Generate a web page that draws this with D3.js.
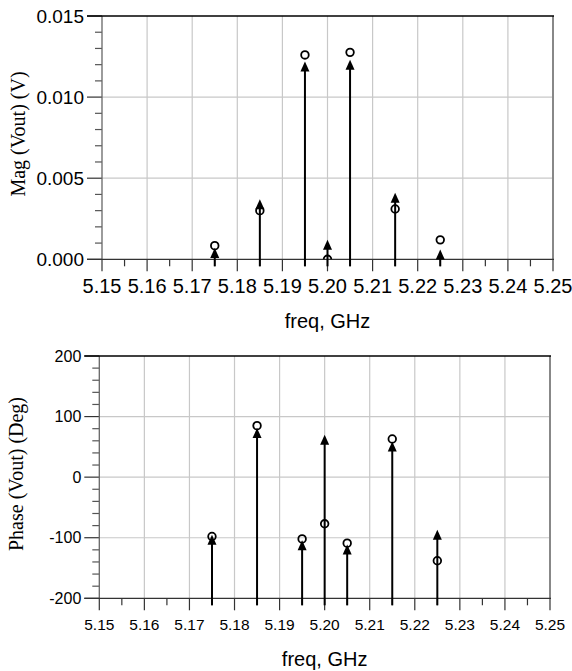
<!DOCTYPE html>
<html>
<head>
<meta charset="utf-8">
<script src="https://cdn.jsdelivr.net/npm/d3@7/dist/d3.min.js"></script>
<style>
  html, body { margin: 0; padding: 0; background: #fff; }
  svg { display: block; }
</style>
</head>
<body>
<svg id="chart" width="572" height="671"></svg>
<script>
// ---- data ----
const freqs = [5.175, 5.185, 5.195, 5.200, 5.205, 5.215, 5.225];
const magCircle = [0.00084, 0.0030, 0.0126, 0.0000, 0.01276, 0.0031, 0.0012];
const magArrow = [0.0007, 0.0037, 0.0122, 0.0012, 0.0123, 0.0041, 0.0006];
const phaseCircle = [-98, 85, -102, -77, -109, 63, -138];
const phaseArrow = [-95, 81, -104, 70, -111, 59, -87];
const xTicks = [5.15, 5.16, 5.17, 5.18, 5.19, 5.20, 5.21, 5.22, 5.23, 5.24, 5.25];
const magTicks = [0.000, 0.005, 0.010, 0.015];
const phaseTicks = [-200, -100, 0, 100, 200];

const svg = d3.select("#chart");
const SANS = "'Liberation Sans', Arial, sans-serif";
const SERIF = "'Liberation Serif', 'Times New Roman', serif";

function drawPanel(cfg) {
  const { left, right, top, bottom, yDomain, yTicks, yMinorStep, yFmt,
          circles, arrows, xFont, yFont, xLabelBase, titleBase, yTitle,
          yTitleX, yTitleY, id } = cfg;
  const x = d3.scaleLinear().domain([5.15, 5.25]).range([left, right]);
  const y = d3.scaleLinear().domain(yDomain).range([bottom, top]);
  const g = svg.append("g");

  // grid
  g.append("g").selectAll("line").data(xTicks.slice(1, -1)).join("line")
    .attr("x1", d => x(d)).attr("x2", d => x(d))
    .attr("y1", top).attr("y2", bottom)
    .attr("stroke", "#c8c8c8").attr("stroke-width", 1.2);
  g.append("g").selectAll("line").data(yTicks.slice(1, -1)).join("line")
    .attr("x1", left).attr("x2", right)
    .attr("y1", d => y(d)).attr("y2", d => y(d))
    .attr("stroke", "#c8c8c8").attr("stroke-width", 1.2);

  // minor ticks
  const xMinor = d3.range(5.155, 5.25, 0.01);
  g.append("g").selectAll("line").data(xMinor).join("line")
    .attr("x1", d => x(d)).attr("x2", d => x(d))
    .attr("y1", bottom).attr("y2", bottom + 7)
    .attr("stroke", "#333").attr("stroke-width", 1.2);
  const yMinor = d3.range(yDomain[0], yDomain[1] + yMinorStep / 2, yMinorStep)
    .filter(v => !yTicks.some(t => Math.abs(t - v) < yMinorStep / 10));
  g.append("g").selectAll("line").data(yMinor).join("line")
    .attr("x1", left - 7).attr("x2", left)
    .attr("y1", d => y(d)).attr("y2", d => y(d))
    .attr("stroke", "#555").attr("stroke-width", 1.2);

  // major ticks
  g.append("g").selectAll("line").data(xTicks).join("line")
    .attr("x1", d => x(d)).attr("x2", d => x(d))
    .attr("y1", bottom).attr("y2", bottom + 12)
    .attr("stroke", "#333").attr("stroke-width", 1.2);
  g.append("g").selectAll("line").data(yTicks).join("line")
    .attr("x1", left - 15).attr("x2", left)
    .attr("y1", d => y(d)).attr("y2", d => y(d))
    .attr("stroke", "#333").attr("stroke-width", 1.2);

  // frame
  g.append("line").attr("x1", left).attr("x2", left).attr("y1", top).attr("y2", bottom)
    .attr("stroke", "#666").attr("stroke-width", 1.3);
  g.append("line").attr("x1", right).attr("x2", right).attr("y1", top).attr("y2", bottom)
    .attr("stroke", "#888").attr("stroke-width", 2);
  g.append("line").attr("x1", left - 15).attr("x2", right + 1).attr("y1", top).attr("y2", top)
    .attr("stroke", "#000").attr("stroke-width", 1.3);
  g.append("line").attr("x1", left - 15).attr("x2", right + 1).attr("y1", bottom).attr("y2", bottom)
    .attr("stroke", "#333").attr("stroke-width", 1.3);

  // tick labels
  g.append("g").selectAll("text").data(xTicks).join("text")
    .attr("x", d => x(d)).attr("y", xLabelBase)
    .attr("text-anchor", "middle")
    .attr("font-family", SANS).attr("font-size", xFont)
    .text(d => d.toFixed(2));
  g.append("g").selectAll("text").data(yTicks).join("text")
    .attr("x", left - 18).attr("y", d => y(d))
    .attr("text-anchor", "end").attr("dominant-baseline", "central")
    .attr("font-family", SANS).attr("font-size", yFont)
    .text(yFmt);

  // axis titles
  g.append("text").attr("x", (left + right) / 2).attr("y", titleBase)
    .attr("text-anchor", "middle").attr("font-family", SANS).attr("font-size", 20)
    .text("freq, GHz");
  g.append("text")
    .attr("transform", `translate(${yTitleX},${yTitleY}) rotate(-90)`)
    .attr("text-anchor", "middle").attr("font-family", SERIF).attr("font-size", 20)
    .text(yTitle);

  // clip
  svg.append("clipPath").attr("id", id).append("rect")
    .attr("x", left).attr("y", top - 10).attr("width", right - left).attr("height", bottom - top + 10);

  const data = freqs.map((f, i) => ({ f, c: circles[i], a: arrows[i] }));
  // stems
  g.append("g").selectAll("line").data(data).join("line")
    .attr("x1", d => x(d.f)).attr("x2", d => x(d.f))
    .attr("y1", bottom + 7).attr("y2", d => y(d.a) + 6)
    .attr("stroke", "#000").attr("stroke-width", 2);
  // arrow heads
  g.append("g").selectAll("path").data(data).join("path")
    .attr("d", d => {
      const cx = x(d.f), ty = y(d.a);
      return `M${cx},${ty} L${cx - 4.5},${ty + 10} L${cx + 4.5},${ty + 10} Z`;
    })
    .attr("fill", "#000");
  // circles
  g.append("g").attr("clip-path", `url(#${id})`).selectAll("circle").data(data).join("circle")
    .attr("cx", d => x(d.f)).attr("cy", d => y(d.c)).attr("r", 3.8)
    .attr("fill", "none").attr("stroke", "#000").attr("stroke-width", 1.8);
}

drawPanel({
  id: "clipTop", left: 102, right: 553, top: 16, bottom: 259.3,
  yDomain: [0, 0.015], yTicks: magTicks, yMinorStep: 0.001, yFmt: d => d.toFixed(3),
  circles: magCircle, arrows: magArrow, xFont: 20, yFont: 19,
  xLabelBase: 292.5, titleBase: 327.5, yTitle: "Mag (Vout) (V)", yTitleX: 25, yTitleY: 134
});

drawPanel({
  id: "clipBot", left: 99.3, right: 550, top: 356, bottom: 598.3,
  yDomain: [-200, 200], yTicks: phaseTicks, yMinorStep: 20, yFmt: d => String(d),
  circles: phaseCircle, arrows: phaseArrow, xFont: 15.5, yFont: 16,
  xLabelBase: 629.5, titleBase: 665.5, yTitle: "Phase (Vout) (Deg)", yTitleX: 23, yTitleY: 474
});
</script>
</body>
</html>
